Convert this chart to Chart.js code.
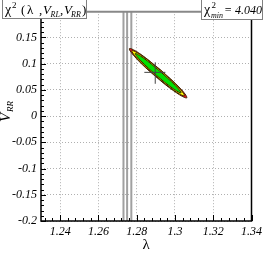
<!DOCTYPE html>
<html>
<head>
<meta charset="utf-8">
<script src="https://cdn.jsdelivr.net/npm/chart.js@4.4.1/dist/chart.umd.min.js"></script>
<style>
  html, body { margin: 0; padding: 0; background: #fff; }
  #wrap { width: 266px; height: 253px; }
</style>
</head>
<body>
<div id="wrap"><canvas id="chart1" width="266" height="253"></canvas></div>
<script>
// axis ticks
const xTicks = [1.24, 1.26, 1.28, 1.30, 1.32, 1.34];
const xTickLabels = ['1.24', '1.26', '1.28', '1.3', '1.32', '1.34'];
const yTicks = [-0.2, -0.15, -0.1, -0.05, 0, 0.05, 0.1, 0.15, 0.2];
const yTickLabels = ['-0.2', '-0.15', '-0.1', '-0.05', '0', '0.05', '0.1', '0.15', '0.2'];

// vertical lambda bands
const lambdaLines = [1.2731, 1.2750, 1.2772];

// confidence contours (lambda, V_RR)
const contourRed = [[1.2926, 0.0878], [1.2816, 0.1192], [1.2762, 0.1287], [1.2796, 0.1107],
  [1.2898, 0.0758], [1.3008, 0.0444], [1.3062, 0.0349], [1.3028, 0.0529], [1.2926, 0.0878]];
const contourYellow = [[1.2925, 0.0872], [1.2824, 0.1160], [1.2775, 0.1247], [1.2806, 0.1083],
  [1.2900, 0.0764], [1.3000, 0.0476], [1.3049, 0.0389], [1.3018, 0.0553], [1.2925, 0.0872]];
const contourGreen = [[1.2921, 0.0858], [1.2834, 0.1111], [1.2792, 0.1193], [1.2821, 0.1055],
  [1.2903, 0.0778], [1.2990, 0.0525], [1.3032, 0.0443], [1.3003, 0.0581], [1.2921, 0.0858]];

// best fit point with error bars
const bestFit = [1.2897, 0.0834];
const bestErrX = [1.2840, 1.2950];
const bestErrY = [0.0616, 0.1026];
const chi2min = '4.040';

const toXY = arr => arr.map(p => ({ x: p[0], y: p[1] }));
const serif = "'Liberation Serif', 'DejaVu Serif', serif";

function contour(data, color) {
  return {
    data: toXY(data),
    showLine: true,
    fill: 'shape',
    backgroundColor: color,
    borderColor: '#3a2200',
    borderWidth: 1,
    tension: 0.4,
    pointRadius: 0
  };
}

const datasets = [
  { data: [{ x: bestErrX[0], y: bestFit[1] }, { x: bestErrX[1], y: bestFit[1] }],
    showLine: true, borderColor: '#444', borderWidth: 1, pointRadius: 0 },
  { data: [{ x: bestFit[0], y: bestErrY[0] }, { x: bestFit[0], y: bestErrY[1] }],
    showLine: true, borderColor: '#444', borderWidth: 1, pointRadius: 0 },
  contour(contourGreen, '#00e000'),
  contour(contourYellow, '#ffff00'),
  contour(contourRed, '#e8101a')
];
lambdaLines.forEach(v => {
  datasets.push({
    data: [{ x: v, y: -0.2 }, { x: v, y: 0.2 }],
    showLine: true, borderColor: '#a0a0a0', borderWidth: 2, pointRadius: 0
  });
});

// draws things chart.js has no option for: inner ticks, frame, titles with sub/superscripts
function drawRich(ctx, y, parts) {
  parts.forEach(p => {
    ctx.font = p.f;
    ctx.fillText(p.t, p.x, y + (p.dy || 0));
  });
}

const extras = {
  id: 'extras',
  afterDatasetsDraw(chart) {
    const ctx = chart.ctx;
    const xs = chart.scales.x, ys = chart.scales.y;
    const a = chart.chartArea;
    ctx.save();
    ctx.strokeStyle = '#000';
    ctx.lineWidth = 1;
    ctx.beginPath();
    for (let i = 0; i <= 27; i++) {
      const v = 1.232 + i * 0.004;
      const px = Math.round(xs.getPixelForValue(v)) + 0.5;
      const major = xTicks.some(t => Math.abs(t - v) < 1e-6);
      ctx.moveTo(px, a.bottom);
      ctx.lineTo(px, a.bottom - (major ? 6 : 3));
    }
    for (let i = 0; i <= 40; i++) {
      const v = -0.2 + i * 0.01;
      const py = Math.round(ys.getPixelForValue(v)) + 0.5;
      const major = i % 5 === 0;
      ctx.moveTo(a.left, py);
      ctx.lineTo(a.left + (major ? 5 : 3), py);
    }
    ctx.stroke();
    ctx.restore();
  },
  afterDraw(chart) {
    const ctx = chart.ctx;
    const a = chart.chartArea;
    ctx.save();
    // frame
    ctx.lineWidth = 2;
    ctx.strokeStyle = '#888';
    ctx.beginPath();
    ctx.moveTo(a.left, a.top + 0.5);
    ctx.lineTo(a.right, a.top + 0.5);
    ctx.stroke();
    ctx.strokeStyle = '#000';
    ctx.lineWidth = 1.5;
    ctx.beginPath();
    ctx.moveTo(a.left, a.top);
    ctx.lineTo(a.left, a.bottom);
    ctx.lineTo(a.right, a.bottom);
    ctx.lineTo(a.right, a.top);
    ctx.stroke();

    ctx.fillStyle = '#000';
    // x title
    ctx.font = '15px ' + serif;
    ctx.textAlign = 'center';
    ctx.fillText('λ', (a.left + a.right) / 2, 249);
    ctx.textAlign = 'left';

    // y title
    ctx.save();
    ctx.translate(9.5, 122);
    ctx.rotate(-Math.PI / 2);
    drawRich(ctx, 0, [
      { t: 'V', x: 0, f: 'italic 15px ' + serif },
      { t: 'RR', x: 10, dy: 3, f: 'italic 9px ' + serif }
    ]);
    ctx.restore();

    // left label box
    ctx.fillStyle = '#fff';
    ctx.strokeStyle = '#808080';
    ctx.lineWidth = 1;
    ctx.fillRect(2.5, -0.5, 84, 19);
    ctx.strokeRect(2.5, -0.5, 84, 19);
    ctx.fillStyle = '#000';
    drawRich(ctx, 13.5, [
      { t: 'χ', x: 5, f: '14px ' + serif },
      { t: '2', x: 12, dy: -6, f: '9px ' + serif },
      { t: '(', x: 21, f: '13px ' + serif },
      { t: 'λ', x: 27, f: '13px ' + serif },
      { t: ',', x: 39, f: '13px ' + serif },
      { t: 'V', x: 43, f: 'italic 13px ' + serif },
      { t: 'RL', x: 50.5, dy: 3, f: 'italic 8px ' + serif },
      { t: ',', x: 60, f: '13px ' + serif },
      { t: 'V', x: 64, f: 'italic 13px ' + serif },
      { t: 'RR', x: 71, dy: 3, f: 'italic 8px ' + serif },
      { t: ')', x: 82, f: '13px ' + serif }
    ]);

    // right label box
    ctx.fillStyle = '#fff';
    ctx.strokeStyle = '#808080';
    ctx.fillRect(201.5, -0.5, 61, 20);
    ctx.strokeRect(201.5, -0.5, 61, 20);
    ctx.fillStyle = '#000';
    drawRich(ctx, 14, [
      { t: 'χ', x: 204, f: '14px ' + serif },
      { t: '2', x: 211.5, dy: -6, f: '9px ' + serif },
      { t: 'min', x: 211, dy: 3.5, f: 'italic 8px ' + serif },
      { t: '= ' + chi2min, x: 224, f: 'italic 12px ' + serif }
    ]);
    ctx.restore();
  }
};

const ctx1 = document.getElementById('chart1').getContext('2d');
const chart1 = new Chart(ctx1, {
  type: 'scatter',
  data: { datasets: datasets },
  options: {
    responsive: false,
    animation: false,
    layout: { padding: { left: 0, right: 9.5, top: 5, bottom: 0 } },
    plugins: { legend: { display: false }, tooltip: { enabled: false } },
    scales: {
      x: {
        type: 'linear',
        min: 1.23,
        max: 1.34,
        afterBuildTicks: s => { s.ticks = xTicks.map(v => ({ value: v })); },
        afterFit: s => { s.height = 32; },
        ticks: {
          padding: 4,
          color: '#000',
          maxRotation: 0,
          autoSkip: false,
          font: { family: serif, size: 12, style: 'italic' },
          callback: (v, i) => xTickLabels[i]
        },
        grid: { color: '#b0b0b0', lineWidth: 1, drawTicks: false },
        border: { display: false, dash: [1, 2] }
      },
      y: {
        type: 'linear',
        min: -0.2,
        max: 0.2,
        afterBuildTicks: s => { s.ticks = yTicks.map(v => ({ value: v })); },
        afterFit: s => { s.width = 41; },
        ticks: {
          padding: 4,
          color: '#000',
          autoSkip: false,
          font: { family: serif, size: 12, style: 'italic' },
          callback: (v, i) => yTickLabels[i]
        },
        grid: { color: '#b0b0b0', lineWidth: 1, drawTicks: false },
        border: { display: false, dash: [1, 2] }
      }
    }
  },
  plugins: [extras]
});
</script>
</body>
</html>
